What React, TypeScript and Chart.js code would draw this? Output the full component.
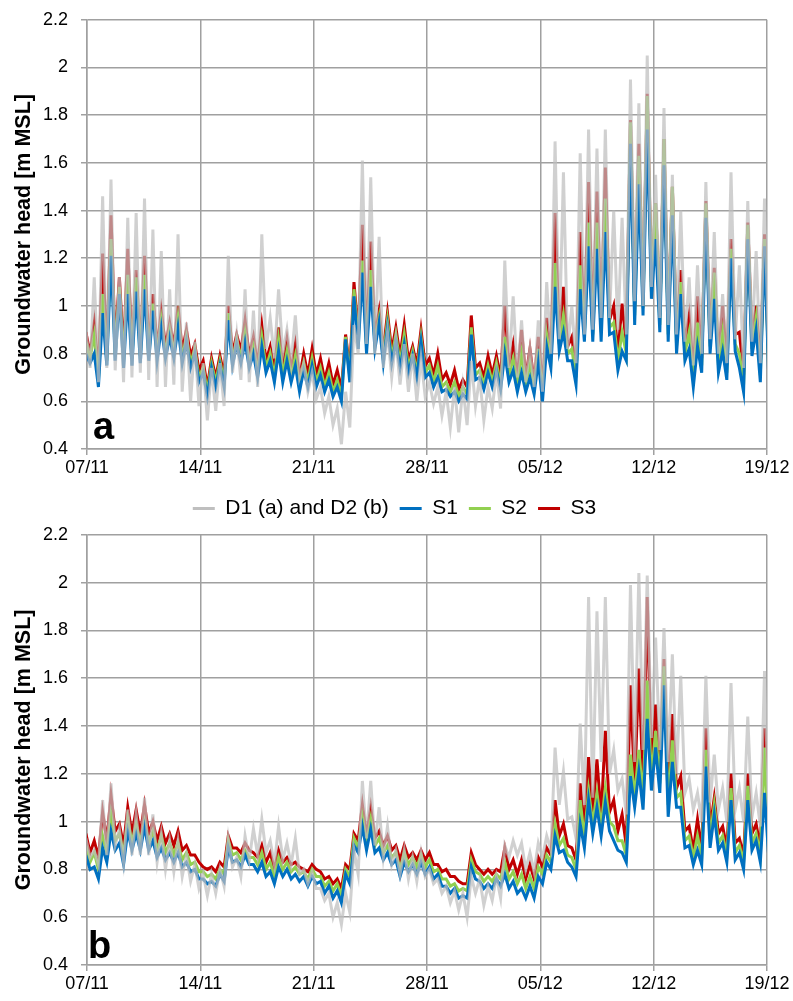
import React, { useEffect, useRef } from "react";
import { Chart, registerables } from "chart.js";

Chart.register(...registerables);

// ---------- labels ----------
const X_TICK_LABELS = ["07/11", "14/11", "21/11", "28/11", "05/12", "12/12", "19/12"];
const SERIES_LABELS = ["D1 (a) and D2 (b)", "S1", "S2", "S3"];
const Y_TITLE = "Groundwater head [m MSL]";
const PANEL_LETTERS = ["a", "b"];

// time grid: one value every half tidal cycle (days since 07/11)
const TIME0 = -0.07;
const STEP = 0.25875;

// ---------- panel a (peak, trough pairs) ----------
const D1_A = [
  0.90,0.74, 1.12,0.68, 1.46,0.74, 1.53,0.73, 1.12,0.68, 1.37,0.70, 1.39,0.72, 1.45,0.69, 1.32,0.66, 1.23,0.66,
  1.07,0.67, 1.30,0.64, 0.93,0.60, 0.85,0.58, 0.76,0.52, 0.74,0.56, 0.76,0.58, 1.21,0.72, 0.88,0.69, 1.07,0.68,
  0.98,0.66, 1.30,0.82, 0.95,0.78, 1.07,0.80, 0.90,0.76, 0.96,0.70, 0.76,0.64, 0.72,0.61, 0.66,0.55, 0.62,0.50,
  0.57,0.42, 0.64,0.49, 0.92,0.80, 1.61,0.84, 1.54,0.80, 1.29,0.74, 0.89,0.70, 0.86,0.67, 0.84,0.64, 0.80,0.60,
  0.78,0.62, 0.68,0.59, 0.66,0.54, 0.64,0.49, 0.66,0.47, 0.66,0.50, 0.77,0.58, 0.70,0.52, 0.66,0.57, 0.72,0.57,
  1.19,0.74, 1.04,0.70, 0.94,0.68, 0.82,0.66, 0.94,0.64, 1.10,0.80, 1.69,0.86, 1.56,0.82, 1.00,0.76, 1.64,0.88,
  1.74,0.90, 1.66,0.95, 1.74,0.95, 1.40,0.90, 1.37,0.88, 1.95,1.02, 1.85,1.00, 2.05,1.08, 1.55,0.95, 1.83,0.92,
  1.55,0.88, 1.40,0.85, 1.12,0.75, 1.17,0.80, 1.52,0.86, 1.31,0.80, 1.05,0.76, 1.56,0.86, 1.17,0.74, 1.44,0.85,
  1.23,0.76, 1.45,0.80,
];
const S1_A = [
  0.80,0.76, 0.80,0.66, 0.97,0.75, 1.21,0.77, 1.05,0.74, 1.05,0.75, 1.06,0.76, 1.07,0.77, 0.98,0.77, 0.91,0.78,
  0.87,0.78, 0.91,0.76, 0.85,0.74, 0.80,0.68, 0.72,0.62, 0.74,0.66, 0.75,0.66, 0.94,0.75, 0.84,0.76, 0.85,0.74,
  0.80,0.70, 0.83,0.72, 0.77,0.68, 0.81,0.68, 0.77,0.68, 0.75,0.64, 0.73,0.66, 0.75,0.66, 0.71,0.64, 0.69,0.62,
  0.66,0.60, 0.86,0.68, 1.04,0.82, 1.14,0.80, 1.08,0.82, 0.93,0.76, 0.91,0.76, 0.85,0.74, 0.84,0.72, 0.79,0.70,
  0.85,0.70, 0.72,0.66, 0.70,0.64, 0.65,0.62, 0.64,0.60, 0.63,0.61, 0.88,0.69, 0.70,0.65, 0.72,0.66, 0.73,0.65,
  0.80,0.68, 0.73,0.64, 0.72,0.64, 0.70,0.63, 0.77,0.60, 0.83,0.74, 1.08,0.81, 0.89,0.77, 0.77,0.67, 1.07,0.85,
  1.25,0.85, 1.24,0.85, 1.31,0.88, 0.89,0.73, 0.81,0.77, 1.68,0.92, 1.51,0.96, 1.74,1.03, 1.28,0.89, 1.59,0.85,
  1.38,0.80, 1.05,0.77, 0.82,0.66, 0.83,0.72, 1.37,0.80, 1.03,0.72, 0.81,0.69, 1.20,0.81, 0.74,0.64, 1.28,0.79,
  0.90,0.68, 1.25,0.70,
];
const S2_A = [
  0.85,0.78, 0.88,0.69, 1.05,0.77, 1.28,0.80, 1.08,0.77, 1.13,0.78, 1.12,0.79, 1.13,0.79, 1.01,0.79, 0.94,0.80,
  0.90,0.80, 0.95,0.78, 0.87,0.76, 0.82,0.70, 0.74,0.64, 0.76,0.68, 0.77,0.68, 0.97,0.77, 0.86,0.78, 0.89,0.76,
  0.83,0.72, 0.87,0.74, 0.80,0.70, 0.86,0.71, 0.81,0.70, 0.79,0.67, 0.76,0.68, 0.78,0.68, 0.74,0.66, 0.72,0.64,
  0.69,0.62, 0.87,0.70, 1.07,0.85, 1.19,0.83, 1.15,0.84, 0.95,0.78, 0.94,0.78, 0.88,0.76, 0.88,0.74, 0.81,0.72,
  0.87,0.72, 0.75,0.68, 0.75,0.66, 0.68,0.64, 0.68,0.62, 0.66,0.63, 0.91,0.71, 0.73,0.67, 0.75,0.68, 0.76,0.67,
  0.87,0.71, 0.78,0.67, 0.80,0.67, 0.76,0.65, 0.82,0.63, 0.88,0.77, 1.18,0.84, 0.96,0.80, 0.82,0.70, 1.17,0.88,
  1.35,0.88, 1.35,0.89, 1.45,0.91, 0.93,0.77, 0.89,0.80, 1.77,0.96, 1.63,0.99, 1.88,1.06, 1.43,0.92, 1.70,0.88,
  1.50,0.83, 1.10,0.80, 0.89,0.69, 0.93,0.75, 1.43,0.83, 1.14,0.75, 0.89,0.72, 1.24,0.84, 0.80,0.67, 1.34,0.82,
  0.95,0.71, 1.28,0.73,
];
const S3_A = [
  0.89,0.80, 0.93,0.72, 1.22,0.80, 1.38,0.83, 1.12,0.80, 1.24,0.81, 1.15,0.82, 1.21,0.82, 1.05,0.82, 0.98,0.83,
  0.93,0.83, 1.00,0.81, 0.90,0.79, 0.84,0.73, 0.77,0.66, 0.78,0.70, 0.79,0.71, 1.00,0.80, 0.88,0.81, 0.94,0.79,
  0.87,0.75, 0.92,0.77, 0.83,0.73, 0.91,0.74, 0.86,0.73, 0.84,0.70, 0.80,0.71, 0.82,0.71, 0.78,0.69, 0.76,0.67,
  0.73,0.65, 0.88,0.73, 1.10,0.88, 1.34,0.86, 1.27,0.87, 0.98,0.81, 0.97,0.81, 0.91,0.79, 0.92,0.77, 0.83,0.75,
  0.90,0.75, 0.78,0.71, 0.80,0.69, 0.72,0.67, 0.73,0.65, 0.69,0.66, 0.96,0.74, 0.76,0.70, 0.79,0.71, 0.79,0.70,
  1.00,0.74, 0.84,0.70, 0.90,0.70, 0.82,0.68, 0.87,0.66, 0.95,0.80, 1.39,0.87, 1.08,0.83, 0.87,0.73, 1.31,0.92,
  1.52,0.92, 1.48,0.93, 1.58,0.94, 1.00,0.80, 1.01,0.84, 1.78,1.00, 1.68,1.03, 1.89,1.10, 1.43,0.96, 1.70,0.92,
  1.50,0.87, 1.15,0.84, 0.96,0.73, 1.04,0.78, 1.44,0.87, 1.16,0.78, 1.00,0.75, 1.28,0.88, 0.89,0.71, 1.35,0.86,
  1.00,0.75, 1.30,0.76,
];

// ---------- panel b (peak, trough pairs) ----------
const D2_B = [
  0.93,0.85, 0.88,0.82, 1.09,0.86, 1.16,0.90, 0.97,0.83, 1.05,0.86, 1.03,0.86, 1.10,0.86, 1.03,0.83, 0.95,0.80,
  0.92,0.79, 0.92,0.77, 0.86,0.75, 0.82,0.72, 0.78,0.69, 0.78,0.70, 0.80,0.73, 0.93,0.81, 0.85,0.77, 0.94,0.84,
  0.97,0.86, 1.01,0.87, 0.92,0.82, 0.98,0.84, 0.91,0.82, 0.93,0.78, 0.80,0.74, 0.79,0.72, 0.72,0.67, 0.70,0.60,
  0.66,0.57, 0.70,0.62, 0.88,0.78, 1.17,0.93, 1.17,0.90, 1.06,0.85, 0.98,0.82, 0.88,0.78, 0.88,0.76, 0.85,0.75,
  0.87,0.77, 0.80,0.74, 0.76,0.70, 0.73,0.66, 0.71,0.63, 0.70,0.60, 0.77,0.70, 0.76,0.65, 0.73,0.67, 0.77,0.68,
  0.90,0.85, 0.92,0.86, 0.91,0.80, 0.87,0.79, 0.91,0.85, 0.94,0.88, 1.31,1.07, 1.21,1.01, 1.02,0.93, 1.41,1.07,
  1.94,1.10, 1.88,1.25, 1.94,1.20, 1.30,1.13, 1.18,1.03, 1.99,1.25, 2.04,1.30, 2.03,1.35, 1.77,1.30, 1.81,1.25,
  1.70,1.20, 1.61,1.12, 1.18,1.05, 1.12,1.00, 1.61,1.08, 1.28,1.05, 1.14,1.00, 1.58,1.05, 1.14,1.00, 1.44,1.02,
  1.12,0.98, 1.63,1.02,
];
const S1_B = [
  0.86,0.80, 0.81,0.76, 0.89,0.83, 0.96,0.88, 0.91,0.82, 0.96,0.88, 0.95,0.88, 0.98,0.88, 0.92,0.85, 0.89,0.84,
  0.87,0.83, 0.87,0.81, 0.83,0.79, 0.80,0.76, 0.76,0.74, 0.75,0.73, 0.78,0.75, 0.89,0.83, 0.84,0.81, 0.86,0.82,
  0.82,0.79, 0.83,0.77, 0.79,0.74, 0.81,0.77, 0.80,0.76, 0.78,0.75, 0.77,0.73, 0.77,0.74, 0.75,0.70, 0.73,0.68,
  0.71,0.66, 0.78,0.74, 0.90,0.87, 0.98,0.88, 0.97,0.87, 0.89,0.84, 0.87,0.82, 0.84,0.77, 0.83,0.79, 0.82,0.78,
  0.83,0.78, 0.81,0.76, 0.78,0.73, 0.73,0.70, 0.72,0.68, 0.69,0.68, 0.81,0.76, 0.75,0.72, 0.74,0.72, 0.76,0.73,
  0.78,0.72, 0.75,0.70, 0.72,0.68, 0.73,0.68, 0.77,0.74, 0.83,0.80, 0.94,0.87, 0.88,0.83, 0.81,0.77, 0.99,0.89,
  1.09,0.95, 1.06,0.94, 1.08,0.96, 0.92,0.88, 0.87,0.83, 1.19,1.06, 1.21,1.05, 1.43,1.13, 1.31,1.12, 1.57,1.02,
  1.25,1.06, 1.06,0.89, 0.90,0.82, 0.88,0.82, 1.23,0.89, 1.03,0.88, 0.91,0.83, 1.09,0.84, 0.87,0.80, 1.09,0.88,
  0.92,0.83, 1.12,0.85,
];
const S2_B = [
  0.90,0.83, 0.87,0.80, 0.94,0.87, 1.03,0.92, 0.95,0.86, 1.01,0.91, 0.99,0.91, 1.00,0.91, 0.96,0.88, 0.94,0.87,
  0.91,0.86, 0.91,0.84, 0.87,0.82, 0.83,0.79, 0.79,0.77, 0.78,0.76, 0.80,0.78, 0.92,0.86, 0.87,0.84, 0.88,0.85,
  0.85,0.82, 0.87,0.80, 0.83,0.77, 0.85,0.80, 0.83,0.79, 0.81,0.78, 0.79,0.76, 0.80,0.77, 0.77,0.73, 0.75,0.71,
  0.74,0.69, 0.80,0.77, 0.93,0.89, 1.02,0.91, 1.01,0.90, 0.93,0.87, 0.90,0.85, 0.87,0.80, 0.87,0.82, 0.85,0.81,
  0.86,0.81, 0.84,0.79, 0.80,0.76, 0.76,0.73, 0.74,0.71, 0.72,0.71, 0.84,0.79, 0.78,0.75, 0.77,0.75, 0.78,0.76,
  0.83,0.76, 0.79,0.74, 0.78,0.72, 0.77,0.72, 0.81,0.78, 0.86,0.83, 0.99,0.90, 0.93,0.86, 0.85,0.80, 1.09,0.93,
  1.13,0.99, 1.12,0.98, 1.14,1.00, 0.98,0.92, 0.92,0.86, 1.28,1.10, 1.30,1.10, 1.59,1.18, 1.38,1.16, 1.65,1.07,
  1.34,1.10, 1.12,0.92, 0.94,0.85, 0.94,0.85, 1.30,0.93, 1.07,0.91, 0.94,0.86, 1.14,0.87, 0.90,0.83, 1.15,0.91,
  0.95,0.86, 1.31,0.88,
];
const S3_B = [
  0.95,0.87, 0.92,0.85, 1.04,0.92, 1.11,0.96, 0.99,0.90, 1.06,0.95, 1.05,0.95, 1.07,0.95, 1.00,0.92, 0.98,0.91,
  0.95,0.90, 0.96,0.88, 0.90,0.86, 0.86,0.83, 0.81,0.80, 0.81,0.79, 0.83,0.81, 0.94,0.89, 0.89,0.87, 0.91,0.88,
  0.87,0.85, 0.90,0.83, 0.87,0.80, 0.88,0.83, 0.85,0.82, 0.83,0.81, 0.80,0.79, 0.82,0.80, 0.79,0.76, 0.77,0.74,
  0.76,0.72, 0.82,0.80, 0.95,0.92, 1.07,0.94, 1.06,0.93, 0.96,0.90, 0.94,0.88, 0.90,0.84, 0.90,0.85, 0.87,0.84,
  0.88,0.84, 0.87,0.82, 0.82,0.79, 0.80,0.77, 0.77,0.75, 0.74,0.74, 0.87,0.82, 0.80,0.78, 0.80,0.78, 0.80,0.79,
  0.89,0.80, 0.84,0.78, 0.84,0.76, 0.82,0.76, 0.85,0.81, 0.89,0.86, 1.09,0.94, 0.99,0.90, 0.89,0.84, 1.16,0.97,
  1.27,1.03, 1.26,1.02, 1.38,1.04, 1.09,0.96, 1.03,0.90, 1.57,1.14, 1.64,1.15, 1.94,1.22, 1.49,1.20, 1.68,1.12,
  1.45,1.14, 1.19,0.96, 0.98,0.88, 1.01,0.88, 1.39,0.97, 1.10,0.95, 0.98,0.89, 1.20,0.91, 0.93,0.86, 1.20,0.95,
  0.99,0.89, 1.39,0.92,
];

// ---------- styles ----------
const LINE_COLORS = ["rgba(190,190,190,0.72)", "#0070c0", "#92d050", "#c00000"];
const LEGEND_COLORS = ["#bfbfbf", "#0070c0", "#92d050", "#c00000"];
const FONT = "'Liberation Sans', Arial, sans-serif";
const GRID = "#a0a0a0";
const LETTER_OFFSETS = [
  { dx: 6, dy: 10 },
  { dx: 1, dy: 7 },
];

function toPoints(vals: number[]) {
  return vals.map((y, i) => ({ x: TIME0 + i * STEP, y }));
}

function makeConfig(series: number[][], panel: number, withLegend: boolean, xHeight: number): any {
  const datasets = series.map((vals, i) => ({
    label: SERIES_LABELS[i],
    data: toPoints(vals),
    borderColor: LINE_COLORS[i],
    backgroundColor: LINE_COLORS[i],
    borderWidth: 3,
    pointRadius: 0,
    tension: 0,
    fill: false,
    order: i,
  }));
  const letterPlugin = {
    id: "panelLetter",
    afterDraw(chart: any) {
      const { ctx, chartArea } = chart;
      const off = LETTER_OFFSETS[panel];
      ctx.save();
      ctx.font = `bold 38px ${FONT}`;
      ctx.fillStyle = "#000";
      ctx.textBaseline = "alphabetic";
      ctx.textAlign = "left";
      ctx.fillText(PANEL_LETTERS[panel], chartArea.left + off.dx, chartArea.bottom - off.dy);
      ctx.restore();
    },
  };
  return {
    type: "line",
    data: { datasets },
    plugins: [letterPlugin],
    options: {
      responsive: false,
      animation: false,
      events: [],
      layout: { padding: { top: 0, right: 26, left: 22, bottom: 0 } },
      plugins: {
        tooltip: { enabled: false },
        legend: {
          display: withLegend,
          position: "bottom",
          labels: {
            boxWidth: 22,
            boxHeight: 3,
            padding: 11,
            color: "#000",
            font: { family: FONT, size: 21 },
            generateLabels: () =>
              SERIES_LABELS.map((t, i) => ({
                text: t,
                fillStyle: LEGEND_COLORS[i],
                strokeStyle: LEGEND_COLORS[i],
                lineWidth: 0,
                hidden: false,
                datasetIndex: i,
                fontColor: "#000",
              })),
          },
        },
      },
      scales: {
        x: {
          type: "linear",
          min: 0,
          max: 42,
          afterFit: (s: any) => { s.height = xHeight; },
          ticks: {
            stepSize: 7,
            padding: 2,
            color: "#000",
            font: { family: FONT, size: 18 },
            maxRotation: 0,
            callback: (v: number) => X_TICK_LABELS[Math.round(v / 7)] ?? "",
          },
          grid: { color: GRID, lineWidth: 1.5, tickLength: 6 },
          border: { color: GRID, width: 1.5 },
        },
        y: {
          type: "linear",
          min: 0.4,
          max: 2.2,
          afterFit: (s: any) => { s.width = 65; },
          ticks: {
            stepSize: 0.2,
            padding: 13,
            color: "#000",
            font: { family: FONT, size: 18 },
            callback: (v: number) => String(Math.round(v * 10) / 10),
          },
          grid: { color: GRID, lineWidth: 1.5, tickLength: 6 },
          border: { color: GRID, width: 1.5 },
          title: {
            display: true,
            text: Y_TITLE,
            color: "#000",
            font: { family: FONT, size: 21.5, weight: "bold" },
            padding: { top: -11, bottom: 0 },
          },
        },
      },
    },
  };
}

export default function App() {
  const refA = useRef<HTMLCanvasElement>(null);
  const refB = useRef<HTMLCanvasElement>(null);

  useEffect(() => {
    const a = new Chart(refA.current as HTMLCanvasElement, makeConfig([D1_A, S1_A, S2_A, S3_A], 0, true, 38));
    const b = new Chart(refB.current as HTMLCanvasElement, makeConfig([D2_B, S1_B, S2_B, S3_B], 1, false, 36));
    return () => {
      a.destroy();
      b.destroy();
    };
  }, []);

  return (
    <div style={{ position: "absolute", left: 0, top: 0, width: 793, height: 1001, background: "#fff", overflow: "hidden" }}>
      <canvas ref={refA} width={793} height={533} style={{ position: "absolute", left: 0, top: -4 }} />
      <canvas ref={refB} width={793} height={490} style={{ position: "absolute", left: 0, top: 511 }} />
    </div>
  );
}
